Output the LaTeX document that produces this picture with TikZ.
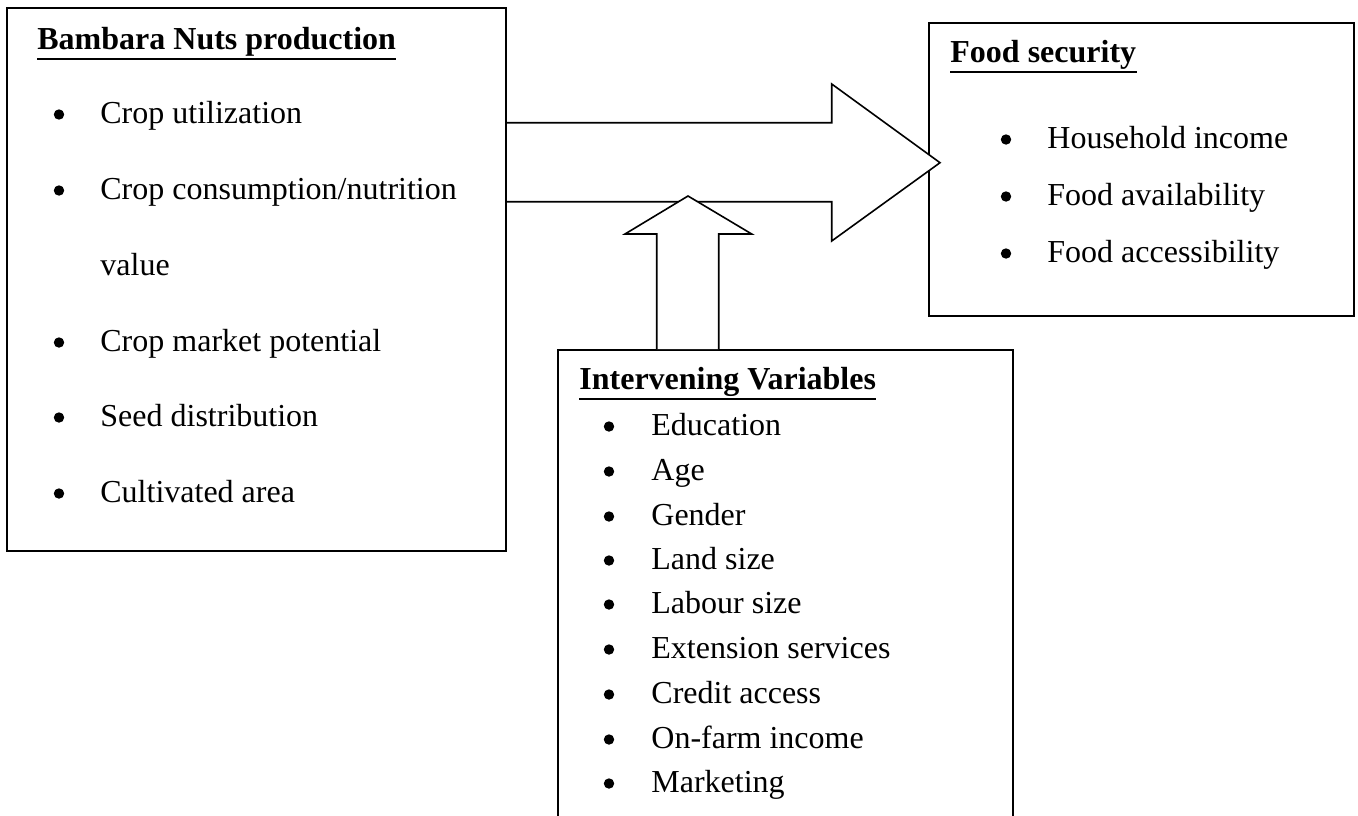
\documentclass[tikz,border=0pt]{standalone}
\usepackage{fontspec}
\setmainfont{Liberation Serif}
\usetikzlibrary{positioning}
\tikzset{framebox/.style={
  shape=rectangle,
  draw=black,
  line width=1pt,
  inner sep=0pt,
  }
  }
\tikzset{heading/.style={
  anchor=base west,
  inner sep=0pt,
  font=\fontsize{16}{19}\selectfont\bfseries,
  }
  }
\tikzset{itemtext/.style={
  anchor=base west,
  inner sep=0pt,
  font=\fontsize{16}{19}\selectfont,
  }
  }
\tikzset{blockarrow/.style={
  draw=black,
  fill=white,
  line width=0.8pt,
  line join=miter,
  }
  }
\newcommand{\bulletdot}[1]{\fill[black] #1 circle[radius=2.6pt];}

\begin{document}
\begin{tikzpicture}[x=0.5pt,y=-0.5pt]
      \clip (0,0) rectangle (1358,815);
      \useasboundingbox (0,0) rectangle (1358,815);
      % boxes
      \node[framebox, minimum width=249.4pt, minimum height=271.4pt] (bambara) at (256.7,279.4) {};
      \node[framebox, minimum width=212.4pt, minimum height=146.2pt] (food) at (1141.7,169.5) {};
      \node[framebox, minimum width=227.4pt, minimum height=250pt] (interv) at (785.3,600) {};

      % headings
      \node[heading] (bambaratitle) at (37,49) {Bambara Nuts production};
      \node[heading] (foodtitle)    at (950,62) {Food security};
      \node[heading] (intervtitle)  at (579,389) {Intervening Variables};
      \foreach \t in {bambaratitle,foodtitle,intervtitle}
        \draw[line width=1.1pt] ([yshift=-5pt]\t.base west) -- ([yshift=-5pt]\t.base east);

      % production list
      \foreach \y/\txt/\b in {123/Crop utilization/1, 199/Crop consumption\slash nutrition/1,
                              275/value/0, 351/Crop market potential/1,
                              426/Seed distribution/1, 502/Cultivated area/1}{
        \node[itemtext] (prod\y) at (100,\y) {\txt};
        \ifnum\b=1 \bulletdot{(59,\y-8.5)} \fi
      }

      % food security list
      \foreach \y/\txt in {148/Household income, 205/Food availability, 262/Food accessibility}{
        \node[itemtext] (food\y) at (1047,\y) {\txt};
        \bulletdot{(1006,\y-8.5)}
      }

      % intervening list
      \foreach \y/\txt in {435/Education, 480/Age, 525/Gender, 569/Land size, 613/Labour size,
                           658/Extension services, 703/Credit access, 748/On-farm income, 792/Marketing}{
        \node[itemtext] (var\y) at (651,\y) {\txt};
        \bulletdot{(609,\y-8.5)}
      }

      % big arrow into food security
      \draw[blockarrow] (bambara.east |- 0,122.7) -- (831.7,122.7) -- (831.7,84)
        -- (940,162.7) -- (831.7,241) -- (831.7,201.7) -- (bambara.east |- 0,201.7);
      % upward arrow from intervening variables
      \draw[blockarrow] (interv.north -| 656.7,0) -- (656.7,234) -- (625,234)
        -- (688,196) -- (751.7,234) -- (718.7,234) -- (interv.north -| 718.7,0);
\end{tikzpicture}
\end{document}
